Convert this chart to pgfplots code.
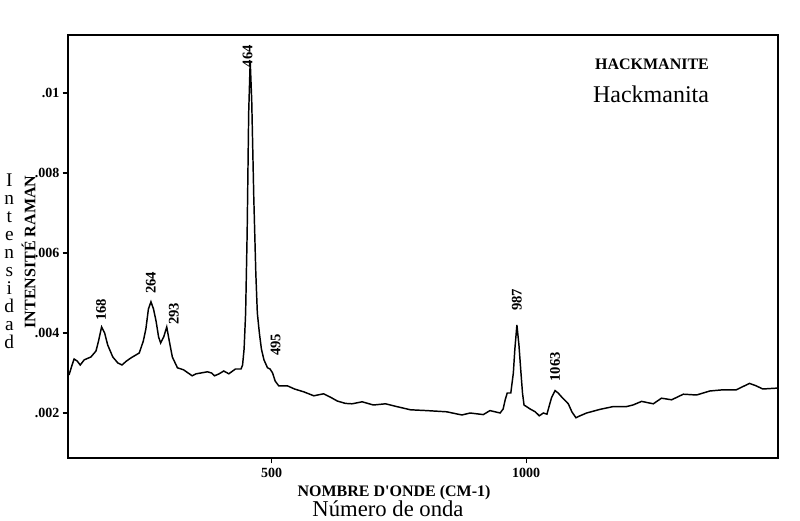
\documentclass[border=0pt]{standalone}
\usepackage{pgfplots}
\pgfplotsset{compat=1.18}
\usepackage{fontspec}
\setmainfont{Liberation Serif}

\begin{document}
\begin{tikzpicture}
\begin{axis}[
    at={(51pt,47.25pt)}, anchor=south west,
    scale only axis,
    width=532.5pt, height=317.25pt,
    xmin=100, xmax=1495,
    ymin=0.000875, ymax=0.01145,
    xtick={500,1000}, xticklabels={500,1000},
    ytick={0.002,0.004,0.006,0.008,0.01},
    yticklabels={.002,.004,.006,.008,.01},
    scaled y ticks=false,
    xtick pos=left, ytick pos=left,
    tick align=outside,
    major tick length=4pt,
    tick style={line width=0.8pt, black},
    tick label style={font=\fontsize{10.5}{11}\selectfont\bfseries},
    yticklabel style={xshift=1pt},
    axis line style={line width=0.9pt},
    clip=false,
]
% spectre Raman hackmanite (lu sur le scan)
\addplot[black, line width=1.1pt, mark=none] table {
w v
102 .00295
108 .0032
112 .00335
118 .0033
124 .0032
132 .00333
145 .0034
155 .00355
160 .0038
166 .00415
172 .0040
178 .0037
188 .0034
198 .00325
206 .0032
215 .0033
224 .00338
240 .0035
248 .0038
253 .0041
258 .0046
263 .00478
268 .0046
273 .0043
278 .0039
282 .00375
288 .0039
294 .00415
299 .0038
305 .0034
315 .00313
327 .00308
336 .0030
344 .00293
352 .00298
361 .0030
374 .00303
382 .0030
388 .00293
397 .00298
406 .00305
416 .00298
429 .0031
440 .0031
443 .0032
446 .0036
449 .0045
452 .0065
455 .0095
458 .0108
461 .0098
465 .0074
469 .0055
472 .0045
476 .0040
480 .0036
485 .00333
492 .00313
497 .0031
502 .0030
507 .0028
514 .00268
531 .00268
545 .0026
563 .00253
583 .00243
602 .00248
615 .0024
629 .0023
645 .00224
658 .00223
678 .00228
700 .0022
724 .00223
746 .00216
773 .00208
805 .00206
844 .00203
874 .00195
890 .002
916 .00196
929 .00206
949 .002
955 .0021
959 .00233
963 .0025
970 .0025
975 .0030
978 .0036
982 .0042
986 .0037
990 .0030
993 .0025
996 .0022
1008 .0021
1018 .00203
1026 .00193
1034 .002
1041 .00197
1046 .0022
1050 .00238
1057 .00256
1063 .0025
1070 .0024
1083 .00223
1090 .00203
1098 .00188
1106 .00193
1119 .002
1145 .00209
1171 .00216
1197 .00216
1210 .0022
1227 .00229
1250 .00223
1266 .00237
1286 .00233
1309 .00247
1335 .00245
1361 .00255
1387 .00258
1413 .00258
1439 .00274
1452 .00268
1465 .0026
1491 .00262
1495 .00262
};

% etiquettes des pics
\begin{scope}[every node/.style={rotate=90, font=\fontsize{11}{12}\selectfont\bfseries}]
\node at (axis cs:165,0.00458) {168};
\node at (axis cs:263,0.00525) {264};
\node at (axis cs:308,0.00448) {293};
\node at (axis cs:453,0.01092) {464};
\node at (axis cs:508,0.0037) {495};
\node at (axis cs:982,0.00483) {987};
\node at (axis cs:1057,0.00315) {1063};
\end{scope}
\end{axis}

\node[font=\fontsize{12}{13}\selectfont\bfseries] at (489pt,342.75pt) {HACKMANITE};
\node[font=\fontsize{18}{20}\selectfont] at (488.25pt,320.25pt) {Hackmanita};
\node[font=\fontsize{12}{13}\selectfont\bfseries] at (295.5pt,21pt) {NOMBRE D\textquotesingle ONDE (CM-1)};
\node[font=\fontsize{17}{18}\selectfont, inner sep=1pt] at (291pt,9pt) {Número de onda};
\node[rotate=90, font=\fontsize{12}{13}\selectfont\bfseries] at (21.5pt,201.75pt) {INTENSITÉ RAMAN};
\node[align=center, font=\fontsize{14.5}{13.5}\selectfont, inner sep=0pt] at (7pt,194.6pt)
  {I\\n\\t\\e\\n\\s\\i\\d\\a\\d};

\pgfresetboundingbox
\useasboundingbox (0,0) rectangle (600pt,390.75pt);
\end{tikzpicture}
\end{document}
